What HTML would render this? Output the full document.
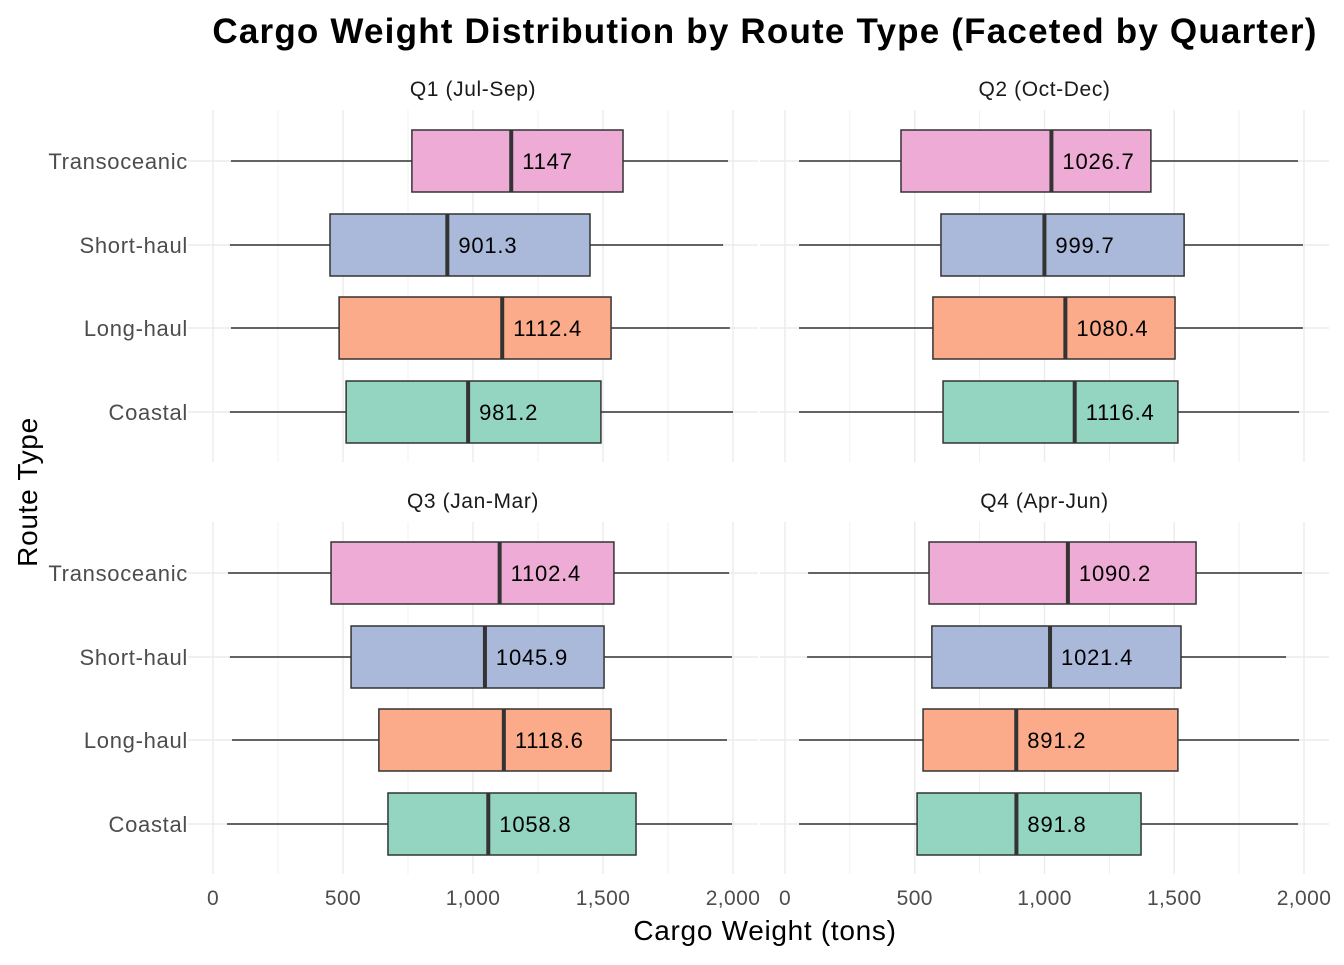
<!DOCTYPE html>
<html><head><meta charset="utf-8"><style>
body{margin:0;background:#fff;font-family:"Liberation Sans",Arial,sans-serif}
svg text{font-family:"Liberation Sans",Arial,sans-serif}
</style></head><body>
<svg id="chart" width="1344" height="960"></svg>
<script>
const routes=["Coastal","Long-haul","Short-haul","Transoceanic"];
const facets=["Q1 (Jul-Sep)","Q2 (Oct-Dec)","Q3 (Jan-Mar)","Q4 (Apr-Jun)"];
const xTicks=[0,500,1000,1500,2000];
const xTickLabels=["0","500","1,000","1,500","2,000"];
// per facet, per route (Coastal, Long-haul, Short-haul, Transoceanic): [min,q1,median,q3,max]
const q1Stats=[[65,512,981.2,1492,2000],[69,485,1112.4,1531,1988],[65,450,901.3,1450,1962],[69,765,1147,1577,1981]];
const q2Stats=[[54,609,1116.4,1514,1981],[54,570,1080.4,1503,1996],[54,601,999.7,1538,1996],[54,447,1026.7,1410,1977]];
const q3Stats=[[54,673,1058.8,1627,1996],[73,638,1118.6,1531,1977],[65,531,1045.9,1504,1996],[58,454,1102.4,1542,1985]];
const q4Stats=[[54,509,891.8,1372,1977],[54,532,891.2,1514,1981],[85,566,1021.4,1526,1931],[89,555,1090.2,1584,1992]];
const allStats=[q1Stats,q2Stats,q3Stats,q4Stats];
const colors=["#93d5c0","#fbab8a","#aab9da","#edabd5"];
const NS="http://www.w3.org/2000/svg";
const svg=document.getElementById("chart");
function el(t,a,p){const e=document.createElementNS(NS,t);for(const k in a)e.setAttribute(k,a[k]);(p||svg).appendChild(e);return e;}
const panels=[{x0:213,x1:733,yt:110,yb:462},{x0:785,x1:1304,yt:110,yb:462},{x0:213,x1:733,yt:522,yb:874},{x0:785,x1:1304,yt:522,yb:874}];
allStats.forEach((stats,fi)=>{
 const P=panels[fi];
 const g=el("g",{});
 
 
 const xs=v=>P.x0+(P.x1-P.x0)*v/2000;
 const yr=i=>P.yt+[302,218,135,51][i];
 for(let v=-250;v<=2250;v+=250){const x=xs(v);if(x<P.x0-25||x>P.x1+25)continue;
  const l=el("line",{x1:x,x2:x,y1:P.yt,y2:P.yb,stroke:"#ebebeb","stroke-width":v%500===0?1.4:0.7},g);
  }
 routes.forEach((r,i)=>{const y=yr(i);
  const l=el("line",{x1:P.x0-25,x2:P.x1+25,y1:y,y2:y,stroke:"#ebebeb","stroke-width":1.4},g);
  });
 const st=el("text",{x:(P.x0+P.x1)/2,y:P.yt-14,"text-anchor":"middle","font-size":21,"letter-spacing":0.6,fill:"#1a1a1a"},g);
 st.textContent=facets[fi];
 
 stats.forEach((s,i)=>{const y=yr(i);
  const bg=el("g",{},g);
  
  
  el("line",{x1:xs(s[0]),x2:xs(s[1]),y1:y,y2:y,stroke:"#333","stroke-width":1.6},bg);
  el("line",{x1:xs(s[3]),x2:xs(s[4]),y1:y,y2:y,stroke:"#333","stroke-width":1.6},bg);
  el("rect",{x:xs(s[1]),y:y-31,width:xs(s[3])-xs(s[1]),height:62,fill:colors[i],stroke:"#333","stroke-width":1.5},bg);
  el("line",{x1:xs(s[2]),x2:xs(s[2]),y1:y-31,y2:y+31,stroke:"#333","stroke-width":4},bg);
  const t=el("text",{x:xs(s[2])+11,y:y+8,"font-size":22,"letter-spacing":0.8,fill:"#000"},bg);
  t.textContent=String(s[2]);
  
 });
 if(fi%2===0){routes.forEach((r,i)=>{const t=el("text",{x:188,y:yr(i)+8,"text-anchor":"end","font-size":22,"letter-spacing":0.7,fill:"#4d4d4d"},g);t.textContent=r;
  });}
 if(fi>=2){xTicks.forEach((v,k)=>{const t=el("text",{x:xs(v),y:905,"text-anchor":"middle","font-size":21,"letter-spacing":0.4,fill:"#4d4d4d"},g);t.textContent=xTickLabels[k];
  });}
});
const title=el("text",{x:765,y:43,"text-anchor":"middle","font-size":35,"letter-spacing":1.2,"font-weight":"bold",fill:"#000"});
title.textContent="Cargo Weight Distribution by Route Type (Faceted by Quarter)";

const xt=el("text",{x:765,y:940,"text-anchor":"middle","font-size":28,"letter-spacing":0.7,fill:"#000"});
xt.textContent="Cargo Weight (tons)";

const yt=el("text",{x:0,y:0,"text-anchor":"middle","font-size":28,"letter-spacing":0.7,fill:"#000",transform:"translate(37,492) rotate(-90)"});
yt.textContent="Route Type";

</script>
</body></html>
